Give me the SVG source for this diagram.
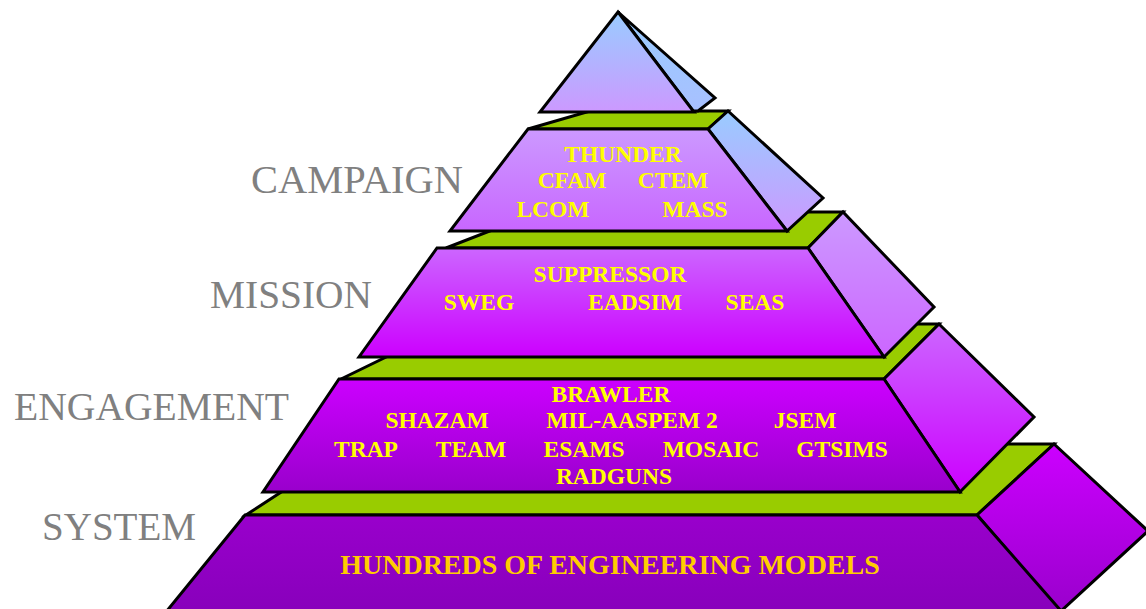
<svg xmlns="http://www.w3.org/2000/svg" width="1146" height="609" viewBox="0 0 1146 609">
  <style>
    .edge { stroke: #000; stroke-width: 3; stroke-linejoin: miter; }
    .top { fill: #99CC00; }
    .lvl { font-family: "Liberation Serif", "Times New Roman", serif; font-size: 39.5px; fill: #808080; }
    .mdl { font-family: "Liberation Serif", "Times New Roman", serif; font-size: 23.5px; font-weight: bold; fill: #FFFF00; text-anchor: middle; }
    .eng { font-family: "Liberation Serif", "Times New Roman", serif; font-size: 28px; font-weight: bold; fill: #FFCC00; text-anchor: middle; }
  </style>
  <defs>
    <linearGradient id="gApexF" x1="0" y1="0" x2="0" y2="1">
      <stop offset="0" stop-color="#99CCFF"/><stop offset="1" stop-color="#CC99FF"/>
    </linearGradient>
    <linearGradient id="gApexS" x1="0" y1="0" x2="0" y2="1">
      <stop offset="0" stop-color="#99CCFF"/><stop offset="1" stop-color="#A8C0FF"/>
    </linearGradient>
    <linearGradient id="gCampF" x1="0" y1="0" x2="0" y2="1">
      <stop offset="0" stop-color="#CC99FF"/><stop offset="1" stop-color="#C866FF"/>
    </linearGradient>
    <linearGradient id="gCampS" x1="0" y1="0" x2="0" y2="1">
      <stop offset="0" stop-color="#99CCFF"/><stop offset="1" stop-color="#CC99FF"/>
    </linearGradient>
    <linearGradient id="gMissF" x1="0" y1="0" x2="0" y2="1">
      <stop offset="0" stop-color="#CC66FF"/><stop offset="1" stop-color="#CC00FF"/>
    </linearGradient>
    <linearGradient id="gMissS" x1="0" y1="0" x2="0" y2="1">
      <stop offset="0" stop-color="#CC99FF"/><stop offset="1" stop-color="#CC66FF"/>
    </linearGradient>
    <linearGradient id="gEngF" x1="0" y1="0" x2="0" y2="1">
      <stop offset="0" stop-color="#CC00FF"/><stop offset="1" stop-color="#9900CC"/>
    </linearGradient>
    <linearGradient id="gEngS" x1="0" y1="0" x2="0" y2="1">
      <stop offset="0" stop-color="#CC66FF"/><stop offset="1" stop-color="#CC00FF"/>
    </linearGradient>
    <linearGradient id="gSysF" x1="0" y1="0" x2="0" y2="1">
      <stop offset="0" stop-color="#9900CC"/><stop offset="1" stop-color="#8800BB"/>
    </linearGradient>
    <linearGradient id="gSysS" x1="0" y1="0" x2="0" y2="1">
      <stop offset="0" stop-color="#CC00FF"/><stop offset="1" stop-color="#9900CC"/>
    </linearGradient>
  </defs>
  <rect width="1146" height="609" fill="#FFFFFF"/>

  <g id="labels">
    <text class="lvl" x="251" y="193" textLength="212" lengthAdjust="spacingAndGlyphs">CAMPAIGN</text>
    <text class="lvl" x="210" y="308" textLength="162" lengthAdjust="spacingAndGlyphs">MISSION</text>
    <text class="lvl" x="14" y="420" textLength="275" lengthAdjust="spacingAndGlyphs">ENGAGEMENT</text>
    <text class="lvl" x="42" y="540" textLength="154" lengthAdjust="spacingAndGlyphs">SYSTEM</text>
  </g>

  <g id="tier-system">
    <polygon class="edge top" points="246,515 355,444 1054,444 977,515"/>
    <polygon class="edge" fill="url(#gSysS)" points="977,515 1054,444 1148,531 1060,612"/>
    <polygon class="edge" fill="url(#gSysF)" points="245,515 977,515 1062,612 166,612"/>
    <text class="eng" x="610" y="574">HUNDREDS OF ENGINEERING MODELS</text>
  </g>

  <g id="tier-engagement">
    <polygon class="edge top" points="341,379 454,324 939,324 884,379"/>
    <polygon class="edge" fill="url(#gEngS)" points="884,379 939,324 1034,417 960,492"/>
    <polygon class="edge" fill="url(#gEngF)" points="339,379 884,379 960,492 263,492"/>
    <text class="mdl" x="611" y="402">BRAWLER</text>
    <text class="mdl" x="437" y="428">SHAZAM</text>
    <text class="mdl" x="632" y="428">MIL-AASPEM 2</text>
    <text class="mdl" x="805" y="428">JSEM</text>
    <text class="mdl" x="366" y="457">TRAP</text>
    <text class="mdl" x="471" y="457">TEAM</text>
    <text class="mdl" x="584" y="457">ESAMS</text>
    <text class="mdl" x="711" y="457">MOSAIC</text>
    <text class="mdl" x="842" y="457">GTSIMS</text>
    <text class="mdl" x="614" y="484">RADGUNS</text>
  </g>

  <g id="tier-mission">
    <polygon class="edge top" points="446,248 539,212 843,212 808,248"/>
    <polygon class="edge" fill="url(#gMissS)" points="808,248 843,212 934,307 884,357"/>
    <polygon class="edge" fill="url(#gMissF)" points="437,248 808,248 884,357 359,357"/>
    <text class="mdl" x="610" y="282">SUPPRESSOR</text>
    <text class="mdl" x="479" y="310">SWEG</text>
    <text class="mdl" x="635" y="310">EADSIM</text>
    <text class="mdl" x="755" y="310">SEAS</text>
  </g>

  <g id="tier-campaign">
    <polygon class="edge top" points="528,129 590,111 728,111 708,129"/>
    <polygon class="edge" fill="url(#gCampS)" points="708,129 728,111 823,198 787,231"/>
    <polygon class="edge" fill="url(#gCampF)" points="528,129 708,129 787,231 450,231"/>
    <text class="mdl" x="623" y="162">THUNDER</text>
    <text class="mdl" x="572" y="188">CFAM</text>
    <text class="mdl" x="673" y="188">CTEM</text>
    <text class="mdl" x="553" y="217">LCOM</text>
    <text class="mdl" x="695" y="217">MASS</text>
  </g>

  <g id="apex">
    <polygon class="edge" fill="url(#gApexS)" points="618,12 715,98 698,111 693,111"/>
    <polygon class="edge" fill="url(#gApexF)" points="618,12 694,112 540,112"/>
  </g>
</svg>
